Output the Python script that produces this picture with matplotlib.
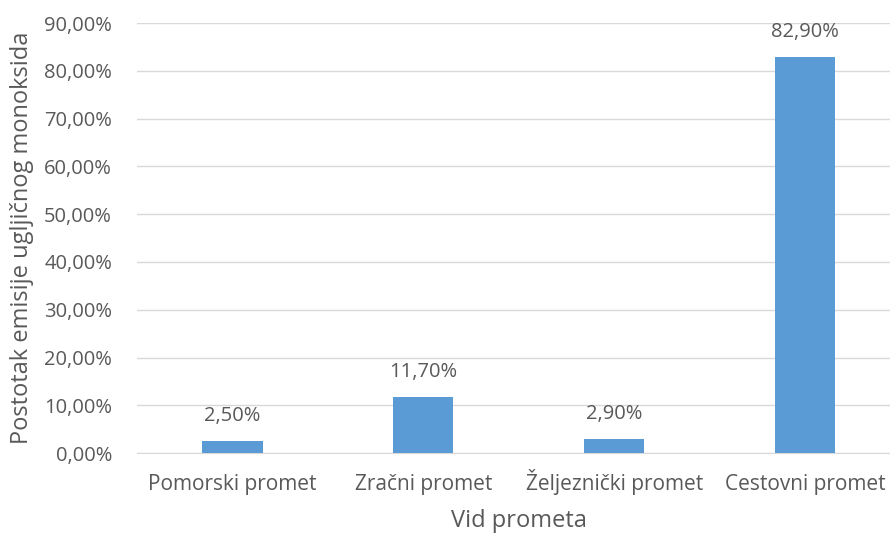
import matplotlib
matplotlib.use('Agg')
import matplotlib.pyplot as plt
from matplotlib.ticker import FuncFormatter

# data
kategorije = ['Pomorski promet', 'Zračni promet', 'Željeznički promet', 'Cestovni promet']
postotci = [2.5, 11.7, 2.9, 82.9]
y_ticks = [0, 10, 20, 30, 40, 50, 60, 70, 80, 90]

plt.rcParams['font.family'] = ['Open Sans', 'DejaVu Sans']
siva = '#595959'

fig = plt.figure(figsize=(8.9, 5.35), dpi=100)
ax = fig.add_axes([0.154, 0.153, 0.858, 0.804])

x = range(len(kategorije))
bars = ax.bar(x, postotci, width=0.315, color='#5B9BD5', zorder=3)

def fmt(v):
    return ('%.2f' % v).replace('.', ',') + '%'

for b, v in zip(bars, postotci):
    ax.text(b.get_x() + b.get_width() / 2, v + 3.2, fmt(v), ha='center', va='bottom',
            fontsize=14.5, color=siva)

ax.set_xlim(-0.5, 3.5)
ax.set_ylim(0, 90)
ax.set_yticks(y_ticks)
ax.yaxis.set_major_formatter(FuncFormatter(lambda v, p: fmt(v)))
ax.set_xticks(list(x))
ax.set_xticklabels(kategorije, va='baseline')
ax.grid(axis='y', color='#D9D9D9', linewidth=1, zorder=0)
for s in ['top', 'right', 'left']:
    ax.spines[s].set_visible(False)
ax.spines['bottom'].set_color('#D9D9D9')
ax.tick_params(length=0, labelcolor=siva)
ax.tick_params(axis='x', labelsize=15, pad=26.5)
ax.tick_params(axis='y', labelsize=14.5, pad=18)
ax.set_xlabel('Vid prometa', fontsize=17, color=siva, labelpad=10)
ax.set_ylabel('Postotak emisije ugljičnog monoksida', fontsize=17, color=siva, labelpad=7)

fig.savefig('out.png', dpi=100)
